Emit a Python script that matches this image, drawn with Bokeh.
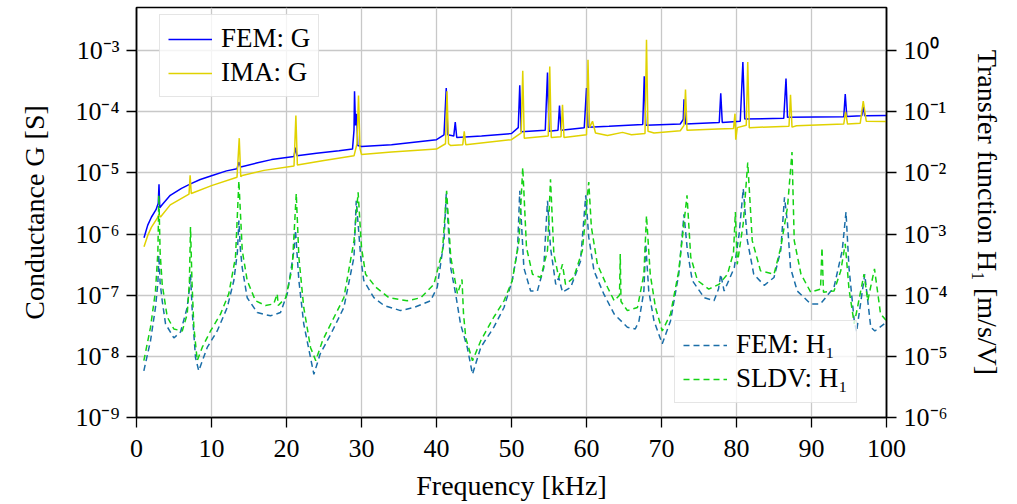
from bokeh.plotting import figure
from bokeh.models import (Range1d, LogScale, LogAxis, FixedTicker, CustomJSTickFormatter,
                          Legend, LegendItem)
from bokeh.embed import file_html
from bokeh.resources import INLINE

# ---------------- data ----------------
freq_fem_g = [1.0, 1.5, 2.0, 2.6, 2.9, 3.0, 3.1, 3.5, 4.5, 6.0, 7.2, 8.5, 10.0, 12.0, 13.4,
              13.65, 13.9, 16.0, 18.0, 21.0, 21.2, 21.4, 24.0, 27.0, 28.8, 29.0, 29.07, 29.2,
              29.35, 29.5, 30.0, 34.0, 40.0, 41.0, 41.3, 41.5, 42.3, 42.5, 42.7, 46.0, 50.0,
              50.9, 51.1, 51.3, 54.5, 54.8, 55.0, 56.2, 56.4, 56.6, 59.7, 60.0, 60.2, 63.0,
              67.5, 67.7, 67.9, 72.5, 72.9, 73.0, 73.2, 77.7, 77.9, 78.1, 80.5, 80.85, 81.1,
              86.3, 86.6, 86.8, 94.3, 94.5, 94.7, 96.7, 96.9, 97.1, 100.0]
g_fem = [8.7e-7, 1.4e-6, 1.9e-6, 2.5e-6, 3.2e-6, 6.5e-6, 2.7e-6, 3.1e-6, 4.3e-6, 5.6e-6,
         6.6e-6, 7.8e-6, 9.0e-6, 1.08e-5, 1.17e-5, 1.5e-5, 1.25e-5, 1.45e-5, 1.65e-5, 1.86e-5,
         2.6e-5, 1.9e-5, 2.1e-5, 2.3e-5, 2.45e-5, 5.0e-5, 2.16e-4, 6.0e-5, 9.3e-5, 2.8e-5,
         2.7e-5, 2.9e-5, 3.5e-5, 4.2e-5, 2.45e-4, 4.2e-5, 4.0e-5, 6.8e-5, 3.8e-5, 4.0e-5,
         4.4e-5, 5.5e-5, 2.7e-4, 4.7e-5, 5.0e-5, 4.4e-4, 4.8e-5, 5.0e-5, 1.26e-4, 5.0e-5,
         5.5e-5, 2.45e-4, 5.6e-5, 5.8e-5, 6.2e-5, 3.8e-4, 6.0e-5, 6.3e-5, 7.5e-5, 1.6e-4,
         6.3e-5, 6.7e-5, 2.0e-4, 6.7e-5, 7.0e-5, 6.5e-4, 7.6e-5, 7.8e-5, 3.5e-4, 8.1e-5,
         8.3e-5, 1.95e-4, 8.4e-5, 8.6e-5, 1.2e-4, 8.6e-5, 8.7e-5]

freq_ima_g = [1.0, 1.5, 2.0, 2.75, 3.0, 3.2, 4.5, 7.0, 7.15, 7.3, 10.0, 13.4, 13.7, 13.9, 14.1,
              17.0, 21.0, 21.25, 21.45, 25.0, 29.0, 29.4, 29.6, 29.8, 30.0, 34.0, 40.0, 41.2,
              41.4, 41.6, 41.9, 43.5, 43.7, 43.9, 50.0, 51.3, 51.5, 51.7, 54.9, 55.1, 55.3,
              56.6, 56.8, 57.0, 60.0, 60.2, 60.4, 60.8, 61.2, 62.8, 64.8, 66.0, 67.8, 68.0,
              68.2, 69.0, 72.5, 73.0, 73.2, 73.4, 77.5, 79.6, 79.8, 79.9, 80.1, 81.3, 81.5,
              81.7, 87.0, 87.2, 87.4, 88.0, 94.3, 94.55, 94.8, 96.5, 96.9, 97.3, 100.0]
g_ima = [6.2e-7, 9.5e-7, 1.3e-6, 1.8e-6, 2.1e-6, 1.9e-6, 3.0e-6, 4.5e-6, 9.1e-6, 4.6e-6,
         6.2e-6, 8.5e-6, 3.7e-5, 8.7e-6, 9.1e-6, 1.1e-5, 1.3e-5, 8.7e-5, 1.35e-5, 1.6e-5,
         1.9e-5, 3.0e-5, 1.84e-4, 2.5e-5, 2.0e-5, 2.2e-5, 2.45e-5, 3.0e-5, 2.16e-4, 3.0e-5,
         2.8e-5, 2.9e-5, 4.8e-5, 2.9e-5, 3.5e-5, 4.5e-5, 4.7e-4, 3.7e-5, 4.0e-5, 5.5e-4,
         3.8e-5, 3.9e-5, 1.3e-4, 3.8e-5, 4.2e-5, 7.1e-4, 5.5e-5, 7.0e-5, 4.5e-5, 4.1e-5,
         4.6e-5, 4.2e-5, 4.4e-5, 1.5e-3, 4.8e-5, 4.5e-5, 4.9e-5, 6.0e-5, 2.3e-4, 5.0e-5,
         5.2e-5, 5.3e-5, 9.3e-5, 3.5e-5, 5.5e-5, 6.0e-5, 6.5e-4, 5.5e-5, 5.8e-5, 1.9e-4,
         5.6e-5, 5.9e-5, 6.3e-5, 1.0e-4, 6.3e-5, 6.5e-5, 1.5e-4, 7.0e-5, 6.9e-5]

freq_fem_h = [0.98, 1.87, 2.53, 2.85, 2.98, 3.15, 3.43, 3.87, 4.98, 5.87,
              6.76, 7.05, 7.2, 7.45, 7.87, 8.3, 9.43, 10.76, 12.1, 12.98,
              13.45, 13.65, 13.85, 14.1, 14.76, 16.1, 17.87, 19.2, 20.1, 21.0,
              21.2, 21.65, 22.3, 23.2, 23.65, 24.5, 25.9, 27.65, 29.0, 29.3,
              29.9, 30.3, 31.65, 33.0, 35.2, 37.0, 39.2, 40.1, 41.0, 41.3,
              41.9, 42.55, 43.2, 44.1, 44.8, 45.9, 47.65, 49.0, 50.1, 50.8,
              51.1, 51.65, 52.55, 53.45, 54.3, 54.8, 55.2, 55.9, 56.3, 56.8,
              57.9, 59.2, 59.9, 60.3, 61.0, 62.3, 63.7, 65.45, 66.5, 67.0,
              67.65, 67.9, 68.3, 69.0, 70.1, 71.2, 72.3, 73.0, 73.45, 74.1,
              75.7, 77.0, 77.6, 77.9, 78.35, 79.7, 80.35, 80.9, 81.45, 82.3,
              83.7, 85.0, 85.9, 86.4, 86.8, 87.2, 88.1, 89.9, 91.2, 93.0,
              94.1, 94.6, 95.0, 95.7, 96.0, 97.1, 97.9, 98.45, 99.7]
h_fem = [5.8e-6, 1.8e-5, 6.3e-5, 1.6e-4, 4.5e-4, 1.6e-4, 8.1e-5, 3.4e-5, 2.0e-5, 2.5e-5,
         6.3e-5, 1.26e-4, 2.2e-4, 5.0e-5, 9.5e-6, 5.8e-6, 1.4e-5, 2.6e-5, 6.3e-5, 1.74e-4,
         5.0e-4, 1.66e-3, 5.6e-4, 2.8e-4, 9.1e-5, 5.2e-5, 4.6e-5, 5.2e-5, 1.05e-4, 5.4e-4,
         1.15e-3, 1.74e-4, 3.4e-5, 9.5e-6, 5.1e-6, 1.1e-5, 2.3e-5, 6.3e-5, 4.2e-4, 3.5e-3,
         4.2e-4, 1.74e-4, 9.1e-5, 6.8e-5, 5.6e-5, 6.3e-5, 8.1e-5, 1.35e-4, 7.8e-4, 4.6e-3,
         2.8e-4, 1.05e-4, 3.4e-5, 1.4e-5, 5.1e-6, 1.4e-5, 3.0e-5, 6.3e-5, 1.74e-4, 5.4e-4,
         5.1e-3, 2.8e-4, 1.17e-4, 1.17e-4, 2.8e-4, 3.5e-3, 6.0e-4, 1.5e-4, 1.95e-4, 1.12e-4,
         1.35e-4, 3.6e-4, 4.3e-3, 8.9e-4, 2.5e-4, 1.05e-4, 4.9e-5, 3.0e-5, 2.8e-5, 3.8e-5,
         1.17e-4, 6.9e-4, 1.17e-4, 3.8e-5, 1.6e-5, 3.8e-5, 2.2e-4, 2.1e-3, 5.4e-4, 1.74e-4,
         9.1e-5, 8.1e-5, 1.26e-4, 2.2e-4, 1.17e-4, 2.8e-4, 1.0e-3, 5.5e-3, 7.8e-4, 2.2e-4,
         1.45e-4, 1.95e-4, 5.4e-4, 4.0e-3, 1.5e-3, 2.8e-4, 1.17e-4, 7.2e-5, 7.2e-5, 1.35e-4,
         5.4e-4, 2.3e-3, 2.8e-4, 3.8e-5, 2.5e-5, 2.2e-4, 3.0e-5, 2.6e-5, 3.4e-5]

freq_sldv_h = [0.98, 1.87, 2.53, 2.85, 2.98, 3.15, 3.43, 4.1, 4.98, 6.1,
               6.76, 7.05, 7.2, 7.4, 7.65, 8.1, 8.76, 9.87, 11.2, 12.3,
               13.2, 13.65, 14.1, 14.76, 15.87, 17.2, 18.3, 18.76, 18.9, 19.9,
               20.76, 21.3, 21.65, 22.3, 23.2, 23.9, 24.8, 26.1, 27.65, 29.0,
               29.55, 30.0, 30.55, 31.9, 33.65, 36.1, 37.9, 39.65, 40.8, 41.35,
               41.9, 42.8, 43.4, 43.6, 43.9, 44.8, 45.9, 47.65, 49.0, 50.1,
               51.0, 51.5, 52.0, 52.8, 53.9, 54.8, 55.2, 55.65, 56.3, 56.8,
               57.2, 58.3, 59.45, 60.3, 60.65, 61.45, 62.8, 63.7, 64.4, 64.5,
               64.6, 65.45, 66.8, 67.65, 68.0, 68.5, 69.2, 70.1, 71.2, 72.3,
               73.4, 73.9, 74.8, 76.3, 77.65, 78.8, 79.6, 79.85, 80.1, 80.9,
               81.5, 82.1, 83.2, 85.0, 85.9, 86.8, 87.4, 87.7, 88.6, 89.9,
               91.2, 91.4, 91.6, 93.0, 93.9, 94.5, 95.0, 95.7, 97.0, 97.5,
               98.4, 99.2, 100.0]
h_sldv = [8.5e-6, 3.0e-5, 1.17e-4, 5.0e-4, 4.3e-3, 5.0e-4, 1.5e-4, 4.4e-5, 2.8e-5, 2.6e-5,
          4.9e-5, 1.6e-4, 1.3e-3, 1.6e-4, 3.0e-5, 8.5e-6, 1.4e-5, 2.6e-5, 4.9e-5, 1.05e-4,
          4.2e-4, 7.4e-3, 5.4e-4, 1.74e-4, 8.1e-5, 6.8e-5, 7.2e-5, 1.05e-4, 6.8e-5, 9.1e-5,
          2.8e-4, 4.6e-3, 4.2e-4, 6.3e-5, 1.4e-5, 8.5e-6, 1.8e-5, 3.8e-5, 9.1e-5, 7.8e-4,
          4.8e-3, 6.0e-4, 2.2e-4, 1.35e-4, 9.1e-5, 8.1e-5, 9.1e-5, 1.5e-4, 5.4e-4, 5.1e-3,
          4.2e-4, 1.05e-4, 1.8e-4, 5.0e-5, 2.0e-5, 8.5e-6, 1.8e-5, 4.4e-5, 8.1e-5, 1.74e-4,
          7.8e-4, 1.23e-2, 6.0e-4, 2.2e-4, 1.95e-4, 5.4e-4, 7.9e-3, 4.7e-4, 1.95e-4, 3.2e-4,
          1.5e-4, 1.95e-4, 5.4e-4, 7.1e-3, 1.3e-3, 3.2e-4, 1.35e-4, 8.1e-5, 1.0e-4, 4.7e-4,
          7.9e-5, 5.6e-5, 6.3e-5, 2.2e-4, 2.0e-3, 2.2e-4, 6.3e-5, 2.6e-5, 4.9e-5, 2.5e-4,
          4.3e-3, 4.2e-4, 1.74e-4, 1.26e-4, 1.5e-4, 2.2e-4, 5.0e-4, 2.3e-3, 3.2e-4, 1.5e-3,
          1.48e-2, 7.8e-4, 2.5e-4, 2.2e-4, 6.0e-4, 2.75e-3, 2.2e-2, 7.8e-4, 2.2e-4, 1.12e-4,
          1.26e-4, 6.0e-4, 1.12e-4, 1.17e-4, 2.5e-4, 6.9e-4, 1.26e-4, 3.4e-5, 2.2e-4, 8.1e-5,
          2.7e-4, 5.0e-5, 3.8e-5]

x_ticks = [0, 10, 20, 30, 40, 50, 60, 70, 80, 90, 100]
g_ticks = [1e-9, 1e-8, 1e-7, 1e-6, 1e-5, 1e-4, 1e-3]
h_ticks = [1e-6, 1e-5, 1e-4, 1e-3, 1e-2, 1e-1, 1e0]

labels_g = ["FEM: G", "IMA: G"]
labels_h = ["FEM: H\u2081", "SLDV: H\u2081"]

# ---------------- styling ----------------
FONT = "Liberation Serif"
FS = "26px"
FS_LAB = "28px"
FS_LEG = "27px"
C_FEM_G = "#0000ff"
C_IMA_G = "#e0d200"
C_FEM_H = "#1a6ea8"
C_SLDV_H = "#14d214"
GRID = "#c8c8c8"

p = figure(width=1012, height=503, output_backend="svg", toolbar_location=None,
           x_range=Range1d(0, 100), y_range=Range1d(1e-9, 5.07e-3), y_axis_type="log",
           min_border_left=136, min_border_right=126, min_border_top=7, min_border_bottom=86)
p.extra_y_ranges = {"h": Range1d(1e-6, 5.07)}
p.extra_y_scales = {"h": LogScale()}
p.outline_line_color = "black"
p.outline_line_width = 1.5
p.background_fill_color = "white"
p.border_fill_color = "white"

sup_js = r"""
const sup = {"-": "\u207b", "0": "\u2070", "1": "\u00b9", "2": "\u00b2", "3": "\u00b3",
             "4": "\u2074", "5": "\u2075", "6": "\u2076", "7": "\u2077", "8": "\u2078", "9": "\u2079"};
const e = Math.round(Math.log10(tick));
let s = "";
for (const c of String(e)) { s += sup[c]; }
return "10" + s;
"""

xt = FixedTicker(ticks=x_ticks, minor_ticks=[])
gt = FixedTicker(ticks=g_ticks, minor_ticks=[])
ht = FixedTicker(ticks=h_ticks, minor_ticks=[])

p.xaxis.ticker = xt
p.yaxis.ticker = gt
p.yaxis.formatter = CustomJSTickFormatter(code=sup_js)
p.xgrid.ticker = xt
p.ygrid.ticker = gt
for g in (p.xgrid[0], p.ygrid[0]):
    g.grid_line_color = GRID
    g.grid_line_width = 1.3

raxis = LogAxis(y_range_name="h", ticker=ht, formatter=CustomJSTickFormatter(code=sup_js))
p.add_layout(raxis, "right")

p.xaxis.axis_label = "Frequency [kHz]"
p.yaxis.axis_label = "Conductance G [S]"
raxis.axis_label = "Transfer function H\u2081 [m/s/V]"

for ax in (p.xaxis[0], p.yaxis[0], raxis):
    ax.major_tick_out = 10
    ax.major_tick_in = 0
    ax.minor_tick_out = 0
    ax.minor_tick_in = 0
    ax.axis_line_color = "black"
    ax.axis_line_width = 1.5
    ax.major_tick_line_width = 1.3
    ax.major_tick_line_color = "black"
    ax.major_label_text_font = FONT
    ax.major_label_text_font_size = FS
    ax.major_label_text_color = "black"
    ax.major_label_standoff = 7
    ax.axis_label_text_font = FONT
    ax.axis_label_text_font_size = FS_LAB
    ax.axis_label_text_font_style = "normal"
    ax.axis_label_text_color = "black"
p.xaxis.major_label_standoff = 12
p.xaxis.axis_label_standoff = 10
p.yaxis.axis_label_standoff = 22
raxis.axis_label_standoff = 21

r1 = p.line(freq_fem_g, g_fem, line_color=C_FEM_G, line_width=1.5)
r2 = p.line(freq_ima_g, g_ima, line_color=C_IMA_G, line_width=1.5)
r3 = p.line(freq_fem_h, h_fem, line_color=C_FEM_H, line_width=1.5, line_dash="6 4",
            y_range_name="h")
r4 = p.line(freq_sldv_h, h_sldv, line_color=C_SLDV_H, line_width=1.5, line_dash="6 4",
            y_range_name="h")


def make_legend(items, loc):
    lg = Legend(items=items, location=loc)
    lg.label_text_font = FONT
    lg.label_text_font_size = FS_LEG
    lg.label_text_color = "black"
    lg.glyph_width = 44
    lg.glyph_height = 30
    lg.label_height = 30
    lg.label_standoff = 9
    lg.padding = 8
    lg.spacing = 3
    lg.margin = 0
    lg.border_line_color = "#cccccc"
    lg.border_line_width = 1
    lg.background_fill_color = "white"
    lg.background_fill_alpha = 0.8
    return lg


leg1 = make_legend([LegendItem(label=labels_g[0], renderers=[r1]),
                    LegendItem(label=labels_g[1], renderers=[r2])], (23, 320))
leg2 = make_legend([LegendItem(label=labels_h[0], renderers=[r3]),
                    LegendItem(label=labels_h[1], renderers=[r4])], (538, 14))
p.add_layout(leg1, "center")
p.add_layout(leg2, "center")

open("out.html", "w").write(file_html(p, INLINE))
